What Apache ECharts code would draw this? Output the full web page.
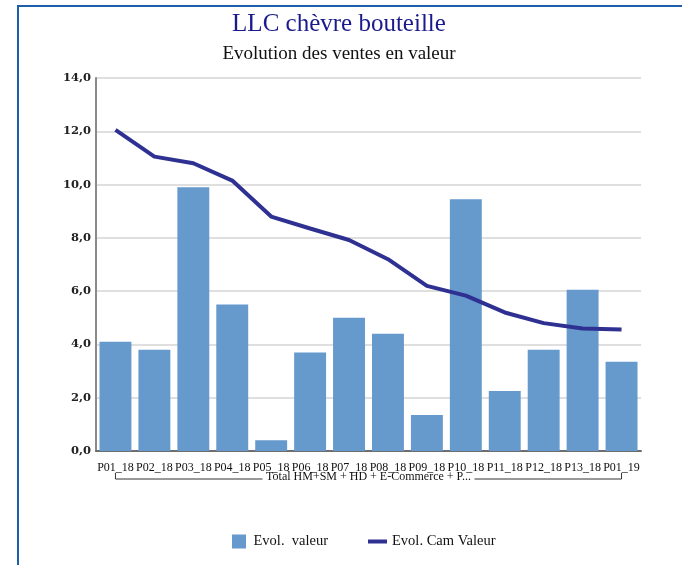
<!DOCTYPE html>
<html>
<head>
<meta charset="utf-8">
<script src="https://cdn.jsdelivr.net/npm/echarts@6/dist/echarts.min.js"></script>
<style>
    html, body { margin: 0; padding: 0; background: #fff; }
    #frame { position: absolute; left: 17px; top: 5px; width: 700px; height: 600px;
             border-left: 2px solid #1b5fad; border-top: 2px solid #1b5fad; }
    #chart { position: absolute; left: 0; top: 0; width: 682px; height: 565px; }
</style>
</head>
<body>
<div id="frame"></div>
<div id="chart"></div>
<script>
// periodes
const categories = ['P01_18', 'P02_18', 'P03_18', 'P04_18', 'P05_18', 'P06_18', 'P07_18',
                    'P08_18', 'P09_18', 'P10_18', 'P11_18', 'P12_18', 'P13_18', 'P01_19'];
const evolValeur = [4.1, 3.8, 9.9, 5.5, 0.4, 3.7, 5.0, 4.4, 1.35, 9.45, 2.25, 3.8, 6.05, 3.35];
const evolCamValeur = [12.05, 11.05, 10.8, 10.15, 8.8, 8.35, 7.92, 7.2, 6.2, 5.83, 5.2, 4.8, 4.6, 4.56];
const yTicks = [0, 2, 4, 6, 8, 10, 12, 14];
const groupLabel = 'Total HM+SM + HD + E-Commerce + P...';

const serif = 'Liberation Serif';
const barColor = '#6699cc';
const lineColor = '#2e3192';

const chart = echarts.init(document.getElementById('chart'), null, {renderer: 'canvas'});

const fmt = v => v.toFixed(1).replace('.', ',');

chart.setOption({
    animation: false,
    backgroundColor: 'transparent',
    title: [
        {text: 'LLC chèvre bouteille', left: 334, top: 7, textAlign: 'center',
         textStyle: {fontFamily: serif, fontSize: 25, fontWeight: 'normal', color: '#1a1a8c'}},
        {text: 'Evolution des ventes en valeur', left: 334, top: 40, textAlign: 'center',
         textStyle: {fontFamily: serif, fontSize: 19, fontWeight: 'normal', color: '#111'}}
    ],
    grid: {left: 96, right: 41, top: 78, bottom: 114, containLabel: false},
    legend: {
        left: 227, top: 529,
        itemWidth: 19, itemHeight: 14, itemGap: 40,
        textStyle: {fontFamily: serif, fontSize: 14.5, color: '#111'},
        data: [
            {name: 'Evol.  valeur', icon: 'path://M0,0H10V10H0Z'},
            {name: 'Evol. Cam Valeur', icon: 'path://M0,0H19V4H0Z'}
        ]
    },
    xAxis: {
        type: 'category',
        data: categories,
        axisTick: {show: false},
        axisLine: {lineStyle: {color: '#6e6e6e', width: 2}},
        axisLabel: {fontFamily: serif, fontSize: 12, color: '#111', margin: 11, interval: 0}
    },
    yAxis: {
        type: 'value',
        min: yTicks[0], max: yTicks[yTicks.length - 1], interval: 2,
        axisLine: {show: true, lineStyle: {color: '#8a8a8a', width: 2}},
        axisTick: {show: false},
        splitLine: {lineStyle: {color: '#d4d4d4', width: 1.5}},
        axisLabel: {fontFamily: 'DejaVu Serif', fontSize: 11.5, fontWeight: 'bold', color: '#222',
                    margin: 5, formatter: fmt}
    },
    series: [
        {
            name: 'Evol.  valeur',
            type: 'bar',
            data: evolValeur,
            barCategoryGap: '18%',
            itemStyle: {color: barColor}
        },
        {
            name: 'Evol. Cam Valeur',
            type: 'line',
            data: evolCamValeur,
            symbol: 'none',
            itemStyle: {color: lineColor},
            lineStyle: {color: lineColor, width: 4}
        }
    ]
});

// accolade sous les categories
const x0 = chart.convertToPixel({xAxisIndex: 0}, 0);
const x1 = chart.convertToPixel({xAxisIndex: 0}, categories.length - 1);
const yBase = chart.convertToPixel({yAxisIndex: 0}, 0);
const yLine = yBase + 28, yTop = yBase + 22;
const xm = (x0 + x1) / 2;
const halfTxt = 106;
chart.setOption({
    graphic: [
        {type: 'polyline', shape: {points: [[x0, yTop], [x0, yLine], [xm - halfTxt, yLine]]},
         style: {stroke: '#333', lineWidth: 1, fill: null}},
        {type: 'polyline', shape: {points: [[xm + halfTxt, yLine], [x1, yLine], [x1, yTop]]},
         style: {stroke: '#333', lineWidth: 1, fill: null}},
        {type: 'text', x: xm, y: yBase + 26,
         style: {text: groupLabel, fontFamily: serif, fontSize: 12, fill: '#111',
                 align: 'center', verticalAlign: 'middle'}}
    ]
});
</script>
</body>
</html>
